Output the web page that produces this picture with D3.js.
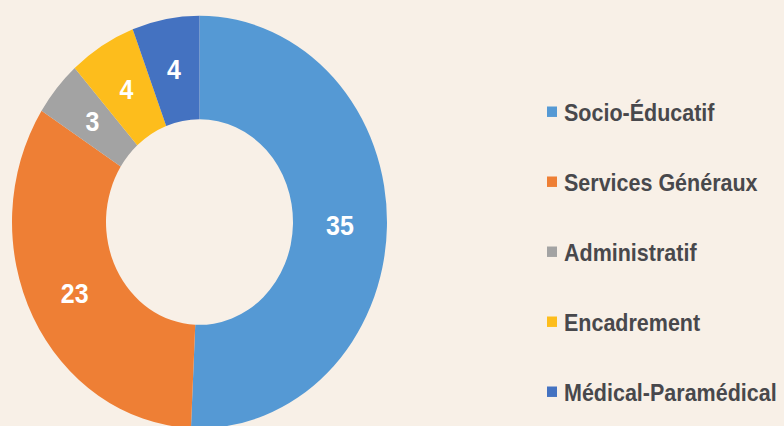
<!DOCTYPE html>
<html>
<head>
<meta charset="utf-8">
<script src="https://cdn.jsdelivr.net/npm/d3@7"></script>
<style>
  html, body { margin: 0; padding: 0; background: #f8f0e7; }
  svg { display: block; }
</style>
</head>
<body>
<figure id="donut" style="margin:0"></figure>
<script>
const categories = ["Socio-Éducatif", "Services Généraux", "Administratif", "Encadrement", "Médical-Paramédical"];
const values = [35, 23, 3, 4, 4];
const colors = ["#5599d4", "#ee7f35", "#a3a3a3", "#fdbd1c", "#4472c1"];

const width = 784, height = 426;
const cx = 199.5, cy = 222;
const outerR = 187.5, innerR = 93.5;
const yStretch = 1.1; // the original picture is a bit taller than wide

const data = categories.map((name, i) => ({ name: name, value: values[i] }));
const color = d3.scaleOrdinal().domain(categories).range(colors);

const svg = d3.select("figure#donut").append("svg")
  .attr("width", width)
  .attr("height", height);

svg.append("rect").attr("width", width).attr("height", height).attr("fill", "#f8f0e7");

const pie = d3.pie().sort(null).value(d => d.value);
const arc = d3.arc().innerRadius(innerR).outerRadius(outerR);
const arcs = pie(data);

svg.append("g")
  .attr("transform", `translate(${cx},${cy}) scale(1,${yStretch})`)
  .selectAll("path").data(arcs).enter().append("path")
  .attr("d", arc)
  .attr("fill", d => color(d.data.name));

// value labels
svg.append("g").selectAll("text").data(arcs).enter().append("text")
  .attr("transform", d => `translate(${cx + arc.centroid(d)[0]},${cy + arc.centroid(d)[1] * yStretch}) scale(1,${yStretch})`)
  .attr("text-anchor", "middle")
  .attr("dominant-baseline", "central")
  .attr("font-family", "Liberation Sans, Arial, sans-serif")
  .attr("font-weight", "bold")
  .attr("font-size", "25px")
  .attr("fill", "#ffffff")
  .text(d => d.data.value);

// legend
const legendY = d3.scalePoint().domain(categories).range([112, 392]);
const legend = svg.append("g").selectAll("g").data(categories).enter().append("g")
  .attr("transform", d => `translate(547,${legendY(d)}) scale(1,${yStretch})`);

legend.append("rect")
  .attr("x", 0).attr("y", -5)
  .attr("width", 10).attr("height", 9.5)
  .attr("fill", d => color(d));

legend.append("text")
  .attr("x", 17)
  .attr("y", 1)
  .attr("dominant-baseline", "central")
  .attr("font-family", "Liberation Sans, Arial, sans-serif")
  .attr("font-weight", "bold")
  .attr("font-size", "21.5px")
  .attr("fill", "#48484c")
  .text(d => d);
</script>
</body>
</html>
